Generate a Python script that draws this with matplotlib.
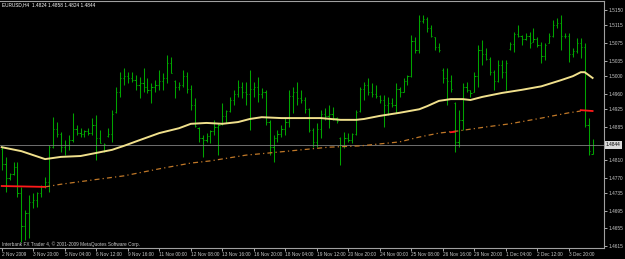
import numpy as np
import matplotlib.pyplot as plt

# EURUSD H4 bars (2 Nov - 4 Dec 2009)
opens = [1.4835, 1.4800, 1.4770, 1.4778, 1.4795, 1.4735, 1.4660, 1.4690, 1.4715, 1.4720,
         1.4735, 1.4750, 1.4760, 1.4840, 1.4880, 1.4870, 1.4840, 1.4845, 1.4855, 1.4880,
         1.4872, 1.4870, 1.4875, 1.4872, 1.4890, 1.4860, 1.4845, 1.4865, 1.4870, 1.4918,
         1.4965, 1.4995, 1.5000, 1.4995, 1.4992, 1.4980, 1.4985, 1.4975, 1.4968, 1.4975,
         1.4980, 1.4990, 1.4995, 1.5030, 1.4990, 1.4975, 1.4980, 1.5000, 1.4970, 1.4935,
         1.4882, 1.4860, 1.4855, 1.4865, 1.4875, 1.4885, 1.4892, 1.4910, 1.4920, 1.4945,
         1.4960, 1.4975, 1.4965, 1.4960, 1.4970, 1.4975, 1.4960, 1.4965, 1.4895, 1.4840,
         1.4860, 1.4870, 1.4880, 1.4895, 1.4955, 1.4965, 1.4950, 1.4945, 1.4925, 1.4878,
         1.4850, 1.4880, 1.4915, 1.4910, 1.4915, 1.4905, 1.4860, 1.4845, 1.4860, 1.4855,
         1.4868, 1.4920, 1.4970, 1.4980, 1.4965, 1.4960, 1.4955, 1.4945, 1.4935, 1.4940,
         1.4935, 1.4970, 1.4965, 1.4990, 1.5000, 1.5080, 1.5060, 1.5125, 1.5130, 1.5110,
         1.5088, 1.5065, 1.5015, 1.4995, 1.4990, 1.4940, 1.4850, 1.4900, 1.4975, 1.4968,
         1.4965, 1.5000, 1.5060, 1.5050, 1.5040, 1.5010, 1.4990, 1.5025, 1.5010, 1.5062,
         1.5072, 1.5095, 1.5090, 1.5085, 1.5090, 1.5078, 1.5085, 1.5070, 1.5045, 1.5075,
         1.5090, 1.5115, 1.5120, 1.5090, 1.5092, 1.5050, 1.5058, 1.5075, 1.5065, 1.4890,
         1.4824]
highs = [1.4842, 1.4817, 1.4780, 1.4805, 1.4805, 1.4749, 1.4697, 1.4731, 1.4735, 1.4737,
         1.4753, 1.4771, 1.4844, 1.4907, 1.4896, 1.4873, 1.4855, 1.4867, 1.4917, 1.4889,
         1.4882, 1.4878, 1.4882, 1.4905, 1.4912, 1.4878, 1.4848, 1.4882, 1.4923, 1.4975,
         1.5009, 1.5019, 1.5009, 1.5009, 1.5003, 1.4998, 1.5019, 1.4996, 1.4985, 1.4991,
         1.5014, 1.5007, 1.5048, 1.5043, 1.4991, 1.4987, 1.5014, 1.5009, 1.4980, 1.4950,
         1.4885, 1.4867, 1.4871, 1.4878, 1.4901, 1.4894, 1.4939, 1.4923, 1.4953, 1.4969,
         1.4991, 1.4987, 1.4987, 1.5014, 1.4987, 1.4998, 1.4973, 1.4969, 1.4901, 1.4867,
         1.4878, 1.4889, 1.4905, 1.4969, 1.4975, 1.4987, 1.4969, 1.4953, 1.4928, 1.4882,
         1.4894, 1.4923, 1.4928, 1.4935, 1.4930, 1.4907, 1.4862, 1.4873, 1.4871, 1.4871,
         1.4923, 1.4975, 1.4987, 1.4996, 1.4985, 1.4980, 1.4957, 1.4957, 1.4953, 1.4950,
         1.4985, 1.4975, 1.4996, 1.5003, 1.5093, 1.5089, 1.5139, 1.5139, 1.5134, 1.5116,
         1.5089, 1.5075, 1.5019, 1.5019, 1.5003, 1.4941, 1.4923, 1.4985, 1.4987, 1.4969,
         1.5009, 1.5071, 1.5082, 1.5064, 1.5043, 1.5014, 1.5037, 1.5037, 1.5037, 1.5077,
         1.5100, 1.5116, 1.5093, 1.5098, 1.5100, 1.5109, 1.5089, 1.5077, 1.5075, 1.5098,
         1.5127, 1.5132, 1.5139, 1.5098, 1.5098, 1.5064, 1.5087, 1.5087, 1.5075, 1.4905,
         1.4858]
lows = [1.4787, 1.4737, 1.4765, 1.4776, 1.4726, 1.4624, 1.4629, 1.4633, 1.4701, 1.4703,
        1.4726, 1.4746, 1.4737, 1.4837, 1.4862, 1.4828, 1.4821, 1.4833, 1.4851, 1.4867,
        1.4862, 1.4862, 1.4867, 1.4867, 1.4810, 1.4848, 1.4828, 1.4862, 1.4851, 1.4917,
        1.4953, 1.4980, 1.4985, 1.4987, 1.4969, 1.4950, 1.4964, 1.4962, 1.4939, 1.4964,
        1.4969, 1.4969, 1.4985, 1.5007, 1.4950, 1.4969, 1.4975, 1.4962, 1.4923, 1.4885,
        1.4851, 1.4817, 1.4851, 1.4848, 1.4867, 1.4821, 1.4889, 1.4894, 1.4919, 1.4935,
        1.4953, 1.4950, 1.4935, 1.4878, 1.4953, 1.4941, 1.4950, 1.4889, 1.4821, 1.4805,
        1.4851, 1.4862, 1.4867, 1.4885, 1.4917, 1.4935, 1.4939, 1.4917, 1.4873, 1.4839,
        1.4839, 1.4860, 1.4901, 1.4882, 1.4901, 1.4894, 1.4799, 1.4837, 1.4851, 1.4848,
        1.4867, 1.4919, 1.4946, 1.4957, 1.4953, 1.4950, 1.4939, 1.4885, 1.4912, 1.4930,
        1.4917, 1.4953, 1.4964, 1.4980, 1.4998, 1.5053, 1.5053, 1.5121, 1.5100, 1.5089,
        1.5059, 1.5055, 1.4985, 1.4935, 1.4964, 1.4828, 1.4839, 1.4878, 1.4964, 1.4953,
        1.4964, 1.4975, 1.5025, 1.5037, 1.5003, 1.4969, 1.4987, 1.4996, 1.4969, 1.5059,
        1.5055, 1.5089, 1.5071, 1.5082, 1.5064, 1.5077, 1.5066, 1.5030, 1.5037, 1.5075,
        1.5089, 1.5109, 1.5059, 1.5087, 1.5032, 1.5043, 1.5053, 1.5041, 1.4885, 1.4821,
        1.4824]
closes = [1.4800, 1.4770, 1.4778, 1.4795, 1.4735, 1.4660, 1.4690, 1.4715, 1.4720, 1.4735,
          1.4750, 1.4760, 1.4840, 1.4880, 1.4870, 1.4840, 1.4845, 1.4855, 1.4880, 1.4872,
          1.4870, 1.4875, 1.4872, 1.4890, 1.4860, 1.4848, 1.4846, 1.4870, 1.4915, 1.4965,
          1.4995, 1.5000, 1.4995, 1.4992, 1.4980, 1.4985, 1.4975, 1.4968, 1.4975, 1.4980,
          1.4990, 1.4995, 1.5030, 1.5008, 1.4975, 1.4980, 1.5000, 1.4970, 1.4935, 1.4888,
          1.4860, 1.4855, 1.4865, 1.4875, 1.4885, 1.4890, 1.4910, 1.4920, 1.4945, 1.4960,
          1.4975, 1.4965, 1.4960, 1.4970, 1.4975, 1.4960, 1.4965, 1.4895, 1.4840, 1.4860,
          1.4870, 1.4880, 1.4895, 1.4955, 1.4965, 1.4950, 1.4945, 1.4925, 1.4878, 1.4850,
          1.4880, 1.4915, 1.4910, 1.4915, 1.4905, 1.4898, 1.4845, 1.4860, 1.4855, 1.4868,
          1.4918, 1.4970, 1.4980, 1.4965, 1.4960, 1.4955, 1.4945, 1.4935, 1.4940, 1.4935,
          1.4970, 1.4965, 1.4990, 1.5000, 1.5080, 1.5060, 1.5125, 1.5130, 1.5110, 1.5090,
          1.5065, 1.5060, 1.4995, 1.4990, 1.4970, 1.4850, 1.4900, 1.4975, 1.4968, 1.4962,
          1.5000, 1.5060, 1.5050, 1.5040, 1.5010, 1.4990, 1.5025, 1.5010, 1.5030, 1.5072,
          1.5095, 1.5092, 1.5085, 1.5090, 1.5075, 1.5085, 1.5070, 1.5045, 1.5070, 1.5090,
          1.5115, 1.5120, 1.5090, 1.5092, 1.5050, 1.5058, 1.5075, 1.5065, 1.4890, 1.4830,
          1.4844]

# moving averages, sampled at bar indices
ma_fast_idx = [0, 5, 11, 15, 20, 24, 28, 31, 35, 40, 45, 48, 52, 56, 60, 63, 66, 71, 76, 81,
               86, 90, 92, 96, 101, 106, 108, 111, 114, 117, 119, 122, 127, 132, 137, 142,
               145, 147, 148, 150]
ma_fast = [1.4839, 1.4830, 1.4812, 1.4817, 1.4819, 1.4826, 1.4833, 1.4842, 1.4855, 1.4871,
           1.4882, 1.4892, 1.4894, 1.4892, 1.4896, 1.4903, 1.4907, 1.4905, 1.4905, 1.4905,
           1.4901, 1.4901, 1.4903, 1.4910, 1.4917, 1.4925, 1.4932, 1.4944, 1.4948, 1.4948,
           1.4946, 1.4953, 1.4962, 1.4969, 1.4977, 1.4991, 1.5000, 1.5009, 1.5009, 1.4996]
ma_slow_idx = [11, 15, 25, 31, 40, 48, 53, 62, 68, 76, 83, 91, 101, 106, 111, 116, 123, 129,
               137, 144, 147]
ma_slow = [1.4749, 1.4755, 1.4767, 1.4774, 1.4790, 1.4803, 1.4808, 1.4821, 1.4826, 1.4833,
           1.4839, 1.4842, 1.4851, 1.4862, 1.4871, 1.4876, 1.4885, 1.4892, 1.4905, 1.4917,
           1.4921]
red_segs = [([0, 11], [1.4751, 1.4749]), ([114, 115], [1.4873, 1.4874]),
            ([147, 150], [1.4923, 1.4921])]

yticks = [1.5150, 1.5115, 1.5075, 1.5035, 1.5000, 1.4960, 1.4925, 1.4885,
          1.4810, 1.4770, 1.4735, 1.4695, 1.4655, 1.4615]
bid = 1.4844
xlabels = ["2 Nov 2009", "3 Nov 20:00", "5 Nov 04:00", "6 Nov 12:00", "9 Nov 16:00",
           "11 Nov 00:00", "12 Nov 08:00", "13 Nov 16:00", "16 Nov 20:00", "18 Nov 04:00",
           "19 Nov 12:00", "20 Nov 20:00", "24 Nov 00:00", "25 Nov 08:00", "26 Nov 16:00",
           "29 Nov 20:00", "1 Dec 04:00", "2 Dec 12:00", "3 Dec 20:00"]

plt.rcParams['font.family'] = ['Liberation Sans', 'DejaVu Sans']
fs = 3.4
fg = '#c8c8c8'

fig = plt.figure(figsize=(6.25, 2.59), dpi=100, facecolor='black')
ax = fig.add_axes([0, 11 / 259, 604 / 625, 247 / 259])
ax.set_facecolor('black')

x = np.arange(len(closes))
bar_col = '#00a400'
ax.vlines(x, lows, highs, color=bar_col, lw=0.75)
ax.hlines(opens, x - 0.3, x, color=bar_col, lw=0.75)
ax.hlines(closes, x, x + 0.3, color=bar_col, lw=0.75)

# bid line
ax.axhline(bid, color='#808080', lw=0.6)

ax.plot(ma_slow_idx, ma_slow, color='#c07828', lw=0.9, ls=(0, (4, 2.5, 1, 2.5)))
for sx, sy in red_segs:
    ax.plot(sx, sy, color='#ff1a1a', lw=1.3)
ax.plot(ma_fast_idx, ma_fast, color='#f0e08c', lw=1.4)

ax.set_xlim(-0.44, 152.9)
ax.set_ylim(1.46105, 1.51704)

for s in ['left']:
    ax.spines[s].set_visible(False)
for s in ['top', 'right', 'bottom']:
    ax.spines[s].set_color('#a0a0a0')
    ax.spines[s].set_linewidth(0.8)

ax.yaxis.tick_right()
ax.set_yticks(yticks)
ax.set_yticklabels(['%.4f' % v for v in yticks])
ax.tick_params(axis='y', colors=fg, labelsize=fs, length=2, width=0.6, pad=1.5)
ax.set_xticks(x[::8][:len(xlabels)])
ax.set_xticklabels(xlabels, ha='left')
ax.tick_params(axis='x', colors=fg, labelsize=fs, length=2, width=0.6, pad=1)
for lab in ax.get_xticklabels():
    lab.set_x(lab.get_position()[0])

# current price box on the right scale
ax.text(1.003, bid, '%.4f' % bid, transform=ax.get_yaxis_transform(), fontsize=fs,
        color='black', va='center', ha='left',
        bbox=dict(boxstyle='square,pad=0.25', fc='#d8d8d8', ec='none'))

ax.text(0.004, 0.995, 'EURUSD,H4  1.4824 1.4858 1.4824 1.4844', transform=ax.transAxes,
        fontsize=fs, color='white', va='top', ha='left')
ax.text(0.003, 0.004, 'Interbank FX Trader 4, \u00a9 2001-2009 MetaQuotes Software Corp.',
        transform=ax.transAxes, fontsize=fs, color=fg, va='bottom', ha='left')

fig.savefig('out.png', dpi=100, facecolor='black')
